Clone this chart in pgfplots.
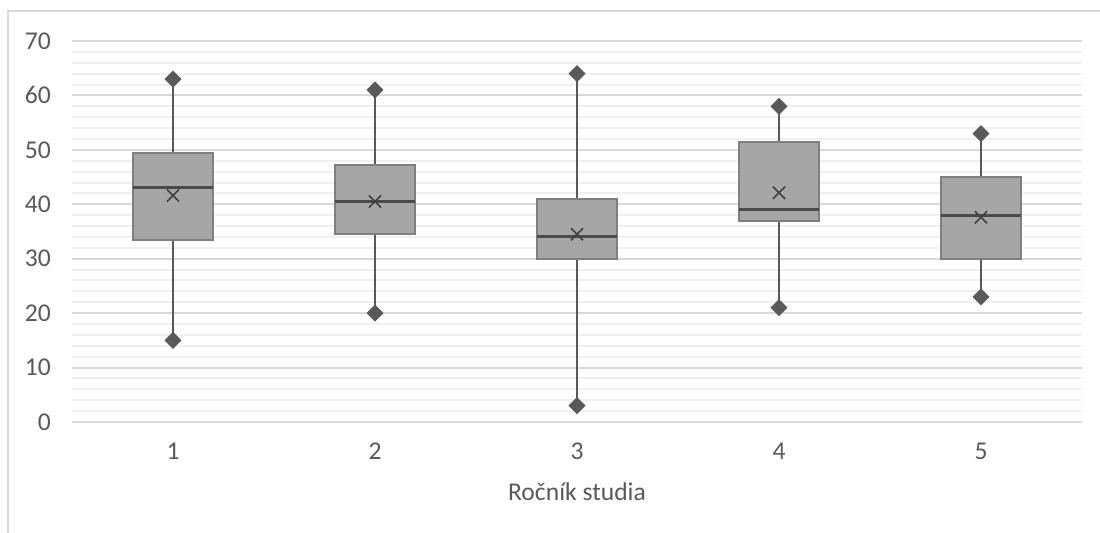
\documentclass[border=0pt]{standalone}
\usepackage{fontspec}
\setmainfont{Carlito}
\usepackage{pgfplots}
\pgfplotsset{compat=1.18}
\usepgfplotslibrary{statistics}
\definecolor{boxfill}{HTML}{A6A6A6}
\definecolor{boxborder}{HTML}{7F7F7F}
\definecolor{whiskc}{HTML}{595959}
\definecolor{medc}{HTML}{4A4A4A}
\definecolor{meanc}{HTML}{404040}
\definecolor{framec}{HTML}{D9D9D9}
\definecolor{majgrid}{HTML}{D9D9D9}
\definecolor{mingrid}{HTML}{F0F0F0}
\definecolor{textc}{HTML}{595959}
\begin{document}
\begin{tikzpicture}
\useasboundingbox (0,0) rectangle (550pt,266.5pt);
\draw[framec, line width=1pt] (3.75pt,0pt) -- (3.75pt,260.75pt) -- (550pt,260.75pt);
\begin{axis}[
  at={(36pt,55.5pt)}, anchor=south west,
  scale only axis, width=505pt, height=190.5pt,
  xmin=0.5, xmax=5.5, ymin=0, ymax=70,
  xtick={1,2,3,4,5}, ytick={0,10,...,70},
  minor y tick num=4,
  ymajorgrids, yminorgrids,
  major grid style={majgrid, line width=1pt},
  minor grid style={mingrid, line width=1pt},
  axis line style={draw=none},
  tick style={draw=none},
  major tick length=0pt, minor tick length=0pt,
  /pgf/number format/assume math mode=true,
  tick label style={font=\fontsize{12.8}{14}\selectfont, text=textc},
  yticklabel style={xshift=-7pt},
  xticklabel style={yshift=-7pt},
  xlabel={Ročník studia},
  xlabel style={font=\fontsize{12.8}{14}\selectfont, text=textc, at={(axis description cs:0.5,0)}, anchor=center, yshift=-35pt},
  clip=false,
  boxplot/draw direction=y,
  boxplot/box extend=0.4,
  boxplot/whisker extend=0,
  boxplot/every box/.style={draw=boxborder, fill=boxfill, line width=1pt},
  boxplot/every whisker/.style={draw=whiskc, line width=1pt},
  boxplot/every median/.style={draw=medc, line width=1.5pt},
]
\addplot[boxplot prepared={draw position=1, lower whisker=15, lower quartile=33.5, median=43, upper quartile=49.5, upper whisker=63}] coordinates {};
\addplot[boxplot prepared={draw position=2, lower whisker=20, lower quartile=34.5, median=40.5, upper quartile=47.3, upper whisker=61}] coordinates {};
\addplot[boxplot prepared={draw position=3, lower whisker=3, lower quartile=30, median=34, upper quartile=41, upper whisker=64}] coordinates {};
\addplot[boxplot prepared={draw position=4, lower whisker=21, lower quartile=37, median=39, upper quartile=51.4, upper whisker=58}] coordinates {};
\addplot[boxplot prepared={draw position=5, lower whisker=23, lower quartile=30, median=38, upper quartile=45, upper whisker=53}] coordinates {};
\addplot[only marks, mark=square*, mark size=2.8pt, mark options={rotate=45, draw=whiskc, fill=whiskc}] coordinates {
(1,63)(1,15)(2,61)(2,20)(3,64)(3,3)(4,58)(4,21)(5,53)(5,23)};
\addplot[only marks, mark=x, mark size=4.3pt, mark options={draw=meanc, line width=0.8pt}] coordinates {
(1,41.6)(2,40.5)(3,34.5)(4,42.1)(5,37.6)};
\end{axis}
\end{tikzpicture}
\end{document}
